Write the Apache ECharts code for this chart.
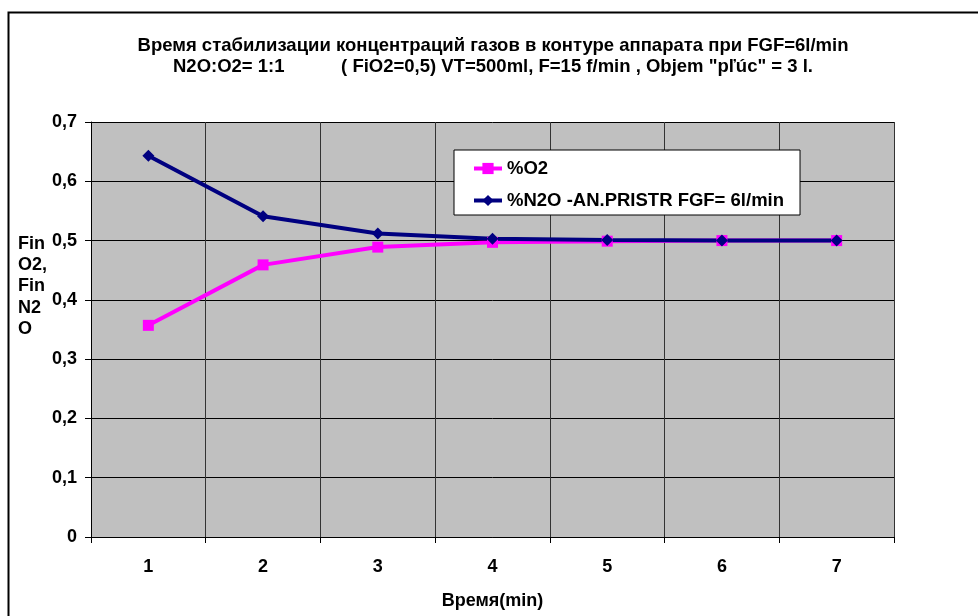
<!DOCTYPE html>
<html>
<head>
<meta charset="utf-8">
<script src="https://cdn.jsdelivr.net/npm/echarts@6/dist/echarts.min.js"></script>
<style>
html,body{margin:0;padding:0;background:#fff;}
#c{width:978px;height:616px;}
</style>
</head>
<body>
<div id="c"></div>
<script>
var categories = ['1', '2', '3', '4', '5', '6', '7'];
var o2Values = [0.357, 0.459, 0.489, 0.497, 0.499, 0.5, 0.5];
var n2oValues = [0.643, 0.541, 0.512, 0.503, 0.501, 0.5, 0.5];
var yTickLabels = ['0', '0,1', '0,2', '0,3', '0,4', '0,5', '0,6', '0,7'];
var seriesNames = ['%O2', '%N2O -AN.PRISTR FGF= 6l/min'];
var titleText = 'Время стабилизации концентраций газов в контуре аппарата при FGF=6l/min\nN2O:O2= 1:1           ( FiO2=0,5) VT=500ml, F=15 f/min , Objem "pľúc" = 3 l.';
var xAxisName = 'Время(min)';
var yAxisName = 'Fin\nO2,\nFin\nN2\nO';

var FONT = '"Liberation Sans", Arial, sans-serif';
var FS = 18;
var FS_BIG = 18.5;
var chart = echarts.init(document.getElementById('c'));
chart.setOption({
  animation: false,
  backgroundColor: '#fff',
  textStyle: { fontFamily: FONT },
  title: {
    text: titleText,
    left: 493,
    textAlign: 'center',
    top: 35,
    padding: 0,
    textStyle: { fontFamily: FONT, fontWeight: 'bold', fontSize: FS_BIG, lineHeight: 21, color: '#000' }
  },
  graphic: [
    { type: 'rect', left: 6, top: 10, shape: { x: 0, y: 0, width: 1000, height: 700 },
      style: { fill: 'none', stroke: '#000', lineWidth: 2 }, silent: true, z: 100 },
    { type: 'text', left: 18, top: 233,
      style: { text: yAxisName, fontFamily: FONT, fontWeight: 'bold', fontSize: FS, lineHeight: 21.4, fill: '#000' } }
  ],
  legend: {
    orient: 'vertical',
    left: 454,
    top: 150,
    padding: [9, 16, 5, 18],
    itemGap: 13,
    itemWidth: 28,
    itemHeight: 14,
    backgroundColor: '#fff',
    borderColor: '#000',
    borderWidth: 1,
    lineStyle: { width: 4 },
    textStyle: { fontFamily: FONT, fontWeight: 'bold', fontSize: FS_BIG, color: '#000' },
    data: seriesNames
  },
  grid: { left: 91, right: 84, top: 122, bottom: 79, show: true, backgroundColor: '#C0C0C0', borderWidth: 0 },
  xAxis: {
    type: 'category',
    data: categories,
    boundaryGap: true,
    name: xAxisName,
    nameLocation: 'middle',
    nameGap: 55,
    nameTextStyle: { fontFamily: FONT, fontWeight: 'bold', fontSize: FS, color: '#000' },
    axisLine: { lineStyle: { color: '#000', width: 1 } },
    axisTick: { show: true, length: 6, lineStyle: { color: '#000' } },
    axisLabel: { margin: 21, fontFamily: FONT, fontWeight: 'bold', fontSize: FS, color: '#000' },
    splitLine: { show: true, lineStyle: { color: '#333', width: 1 } }
  },
  yAxis: {
    type: 'value',
    min: 0, max: 0.7, interval: 0.1,
    axisLine: { show: true, lineStyle: { color: '#000', width: 1 } },
    axisTick: { show: true, length: 6, lineStyle: { color: '#000' } },
    axisLabel: {
      margin: 14, fontFamily: FONT, fontWeight: 'bold', fontSize: FS, color: '#000',
      formatter: function (v) { return yTickLabels[Math.round(v * 10)]; }
    },
    splitLine: { show: true, lineStyle: { color: '#000', width: 1 } }
  },
  series: [
    {
      name: seriesNames[0], type: 'line', data: o2Values,
      symbol: 'rect', symbolSize: 11,
      lineStyle: { color: '#FF00FF', width: 4 },
      itemStyle: { color: '#FF00FF' }
    },
    {
      name: seriesNames[1], type: 'line', data: n2oValues,
      symbol: 'diamond', symbolSize: 12,
      lineStyle: { color: '#000080', width: 4 },
      itemStyle: { color: '#000080' }
    }
  ]
});
</script>
</body>
</html>
